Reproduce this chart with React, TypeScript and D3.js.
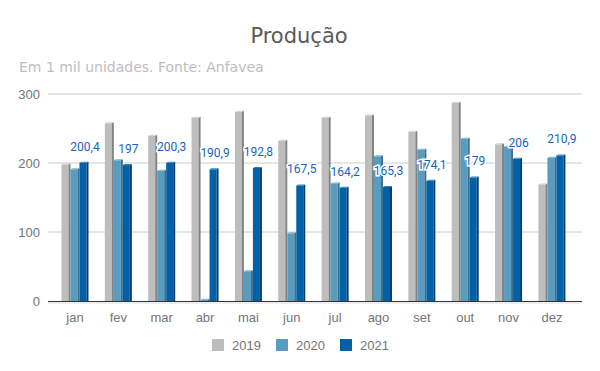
import React, { useEffect, useRef } from 'react';
import * as d3 from 'd3';

const months = ['jan', 'fev', 'mar', 'abr', 'mai', 'jun', 'jul', 'ago', 'set', 'out', 'nov', 'dez'];
const years = ['2019', '2020', '2021'];
const prod2019 = [198, 257.5, 239.6, 265.7, 274.4, 232.3, 265.7, 269, 245.4, 287.4, 227, 169];
const prod2020 = [190.9, 204, 188.9, 1.8, 43.1, 98.1, 170.4, 209.7, 219.3, 235.2, 223.6, 207.7];
const prod2021 = [200.4, 197, 200.3, 190.9, 192.8, 167.5, 164.2, 165.3, 174.1, 179, 206, 210.9];
const yTicks = [0, 100, 200, 300];

const frontColors = ['#bdbdbd', '#589dc0', '#0061a8'];
const sideColors = ['#828282', '#3b6f8a', '#003f70'];
const topColors = ['#d0d0d0', '#76b2d0', '#2a7ec0'];

function App() {
  const ref = useRef<SVGSVGElement>(null);

  useEffect(() => {
    const width = 600, height = 371;
    const svg = d3.select(ref.current);
    svg.selectAll('*').remove();
    svg.attr('width', width).attr('height', height);

    const series = [prod2019, prod2020, prod2021];

    // plot geometry
    const gridLeft = 48, gridRight = 582;
    const yBottom = 301, yTop = 94;

    const x = d3.scaleBand<string>()
      .domain(months)
      .range([53.3, 573.6])
      .paddingInner(0)
      .paddingOuter(0);

    const y = d3.scaleLinear().domain([0, 300]).range([yBottom, yTop]);

    const barW = 9, face = 7, depth = 2;

    // title
    svg.append('text')
      .attr('x', 299).attr('y', 43)
      .attr('text-anchor', 'middle')
      .style('font-family', 'DejaVu Sans')
      .style('font-size', '21px')
      .style('fill', '#595959')
      .text('Produção');

    svg.append('text')
      .attr('x', 19).attr('y', 72)
      .style('font-family', 'DejaVu Sans')
      .style('font-size', '14px')
      .style('fill', '#bdbdbd')
      .text('Em 1 mil unidades. Fonte: Anfavea');

    // grid
    svg.append('g').selectAll('line')
      .data(yTicks.filter(t => t > 0))
      .enter().append('line')
      .attr('x1', gridLeft).attr('x2', gridRight)
      .attr('y1', d => y(d)).attr('y2', d => y(d))
      .style('stroke', '#cccccc').style('stroke-width', 1);

    svg.append('g').selectAll('text')
      .data(yTicks)
      .enter().append('text')
      .attr('x', 40).attr('y', d => y(d) + 5)
      .attr('text-anchor', 'end')
      .style('font-family', 'Liberation Sans, Arial, sans-serif')
      .style('font-size', '13px')
      .style('fill', '#757575')
      .text(d => d);

    // floor
    svg.append('rect')
      .attr('x', gridLeft).attr('y', yBottom)
      .attr('width', gridRight - gridLeft).attr('height', 3)
      .style('fill', '#eeeeee');

    // bars
    const bars = svg.append('g');
    months.forEach((m, i) => {
      const center = (x(m) as number) + x.bandwidth() / 2;
      const start = center - (barW * 3) / 2;
      series.forEach((vals, s) => {
        const bx = start + s * barW;
        const top = y(vals[i]);
        bars.append('rect')
          .attr('x', bx).attr('y', top)
          .attr('width', face).attr('height', yBottom - top)
          .style('fill', frontColors[s]);
        bars.append('path')
          .attr('d', `M${bx + face},${top} L${bx + face + depth},${top - 1} L${bx + face + depth},${yBottom} L${bx + face},${yBottom} Z`)
          .style('fill', sideColors[s]);
        bars.append('path')
          .attr('d', `M${bx},${top} L${bx + depth},${top - 1} L${bx + face + depth},${top - 1} L${bx + face},${top} Z`)
          .style('fill', topColors[s]);
      });
    });

    // baseline
    svg.append('line')
      .attr('x1', gridLeft).attr('x2', gridRight)
      .attr('y1', yBottom + 0.5).attr('y2', yBottom + 0.5)
      .style('stroke', '#333').style('stroke-width', 1);

    // month labels
    svg.append('g').selectAll('text')
      .data(months)
      .enter().append('text')
      .attr('x', d => (x(d) as number) + x.bandwidth() / 2)
      .attr('y', 322)
      .attr('text-anchor', 'middle')
      .style('font-family', 'Liberation Sans, Arial, sans-serif')
      .style('font-size', '13px')
      .style('fill', '#757575')
      .text(d => d);

    // data labels on 2021
    svg.append('g').selectAll('text')
      .data(months)
      .enter().append('text')
      .attr('x', (d) => (x(d) as number) + x.bandwidth() / 2 + barW + 1)
      .attr('y', (d, i) => y(prod2021[i]) - 12)
      .attr('text-anchor', 'middle')
      .style('font-family', 'Roboto, sans-serif')
      .style('font-size', '12px')
      .style('fill', '#1565c0')
      .style('stroke', '#fff')
      .style('stroke-width', 3)
      .style('paint-order', 'stroke')
      .text((d, i) => String(prod2021[i]).replace('.', ','));

    // legend
    const legendX = [212, 276, 340];
    const legend = svg.append('g');
    years.forEach((yr, s) => {
      legend.append('rect')
        .attr('x', legendX[s]).attr('y', 339)
        .attr('width', 12).attr('height', 12)
        .style('fill', frontColors[s]);
      legend.append('text')
        .attr('x', legendX[s] + 20).attr('y', 350)
        .style('font-family', 'Liberation Sans, Arial, sans-serif')
        .style('font-size', '13px')
        .style('fill', '#757575')
        .text(yr);
    });
  }, []);

  return <svg ref={ref} style={{ position: 'absolute', left: 0, top: 0 }}></svg>;
}

export default App;
